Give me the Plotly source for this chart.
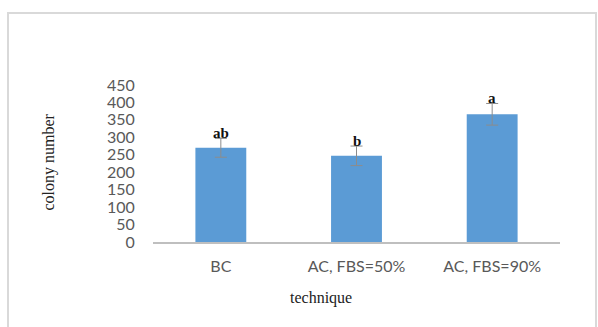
import plotly.graph_objects as go

# Colony counts per culture technique (mean ± error) with significance letters
categories = ["BC", "AC, FBS=50%", "AC, FBS=90%"]
colony_mean = [270, 247, 366]
colony_err = [27, 28, 31]
sig_letters = ["ab", "b", "a"]
y_ticks = [0, 50, 100, 150, 200, 250, 300, 350, 400, 450]

fig = go.Figure()
fig.add_trace(go.Bar(
    x=categories,
    y=colony_mean,
    marker=dict(color="#5B9BD5", line=dict(width=0)),
    error_y=dict(type="data", array=colony_err, visible=True,
                 color="#8C8C8C", thickness=1, width=6),
    width=0.375,
))

# significance letters above each error bar
for cat, m, e, s in zip(categories, colony_mean, colony_err, sig_letters):
    fig.add_annotation(x=cat, y=m + e, text=f"<b>{s}</b>", showarrow=False,
                       xref="x", yref="y", yanchor="bottom", yshift=-5,
                       font=dict(family="Liberation Serif", size=15, color="#111111"))

# axis titles
fig.add_annotation(text="colony number", xref="paper", yref="paper", x=0, y=0.5,
                   xanchor="center", yanchor="middle",
                   xshift=-105, yshift=1, textangle=-90, showarrow=False,
                   font=dict(family="Liberation Serif", size=16, color="#222222"))
fig.add_annotation(text="technique", xref="paper", yref="paper", x=0, y=0,
                   xanchor="center", yanchor="middle",
                   xshift=168, yshift=-56, showarrow=False,
                   font=dict(family="Liberation Serif", size=16, color="#222222"))

# chart frame
fig.add_shape(type="rect", xref="paper", yref="paper",
              xsizemode="pixel", ysizemode="pixel", xanchor=0, yanchor=0,
              x0=-145, x1=443, y0=229, y1=-100,
              line=dict(color="#D9D9D9", width=2), fillcolor="rgba(0,0,0,0)")

fig.update_layout(
    width=598, height=327,
    margin=dict(l=153, r=38, t=85, b=85),
    paper_bgcolor="white", plot_bgcolor="white",
    showlegend=False,
    xaxis=dict(showline=True, linecolor="#BFBFBF", linewidth=2, showgrid=False,
               tickfont=dict(family="Lato", size=16, color="#595959"),
               ticks="outside", ticklen=9, tickcolor="rgba(0,0,0,0)"),
    yaxis=dict(range=[0, 450], tickvals=y_ticks, showgrid=False, showline=False,
               zeroline=False,
               tickfont=dict(family="Lato", size=16, color="#595959"),
               ticks="outside", ticklen=14, tickcolor="rgba(0,0,0,0)"),
)

fig.write_html("out.html")
